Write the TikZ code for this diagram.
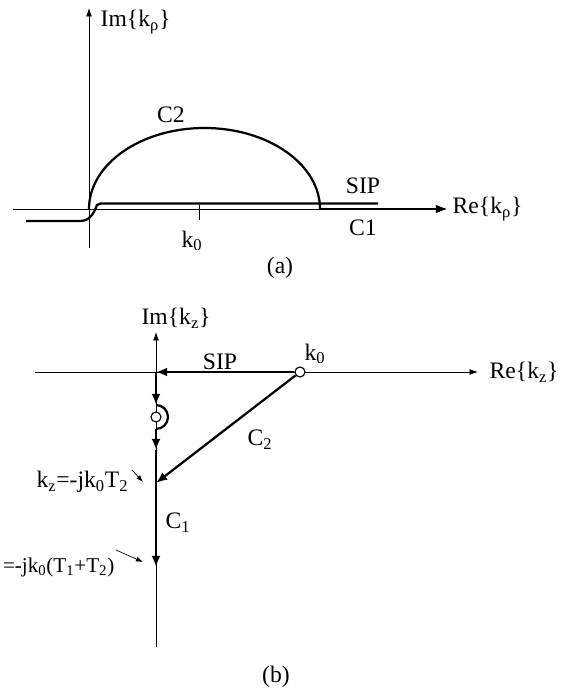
\documentclass[tikz,border=0pt]{standalone}
\usepackage{fontspec}
\setmainfont{Liberation Serif}
\usetikzlibrary{arrows.meta}

\begin{document}
\begin{tikzpicture}[
    >={Latex[length=6pt,width=4.2pt]},
    axis/.style={line width=0.6pt},
    contour/.style={line width=1.6pt, >={Latex[length=8pt,width=6.5pt]}},
    pointer/.style={line width=0.5pt, -{Latex[length=5pt,width=3.5pt]}},
    lbl/.style={font=\fontsize{16.8}{19}\selectfont, inner sep=1pt},
    pole/.style={circle, draw, line width=0.8pt, fill=white,
        inner sep=0pt, minimum size=0.25cm}
]
    \useasboundingbox (0,0) rectangle (14.05,17.25);

    \begin{scope}[shift={(2.225,12.025)}]
        \coordinate (oa) at (0,0);
        \coordinate (imtop) at (0,5.025);
        \coordinate (imbot) at (0,-0.975);
        \coordinate (releft) at (-1.9,0);
        \coordinate (reright) at (8.95,0);
        \coordinate (c2end) at (5.775,0);

        \draw[axis,->] (imbot) -- (imtop);
        \draw[axis,->] (releft) -- (reright);
        \draw[axis] (2.75,0.1) -- (2.75,-0.275);

        \draw[contour] (oa) arc[start angle=180, end angle=0,
            x radius=2.8875, y radius=2.025];
        \draw[contour] (-1.575,-0.3) -- (-0.225,-0.3)
            .. controls (0.025,-0.3) and (0.125,-0.1) .. (0.2,0.1)
            -- (0.3,0.14) -- (7.225,0.14);
        \draw[contour,->] (c2end) -- (reright);

        \node[lbl, anchor=west] (imlabel) at (0.25,4.675) {Im\{k\textsubscript{ρ}\}};
        \node[lbl, anchor=west] (relabel) at (9.05,0) {Re\{k\textsubscript{ρ}\}};
        \node[lbl] (k0a) at (2.575,-0.8) {k\textsubscript{0}};
        \node[lbl] (c2a) at (2.05,2.35) {C2};
        \node[lbl] (sipa) at (6.85,0.575) {SIP};
        \node[lbl] (c1a) at (6.85,-0.475) {C1};
    \end{scope}

    \node[lbl] (capa) at (7.0,10.55) {(a)};

    \begin{scope}[shift={(3.9,7.95)}]
        \coordinate (ob) at (0,0);
        \coordinate (imbtop) at (0,1.0);
        \coordinate (imbbot) at (0,-6.875);
        \coordinate (reblft) at (-3.025,0);
        \coordinate (rebrgt) at (8.05,0);
        \coordinate (d1) at (0,-0.825);
        \coordinate (d2) at (0,-1.425);
        \coordinate (d3) at (0,-1.95);
        \coordinate (t2) at (0,-2.775);
        \coordinate (t12) at (0,-4.875);

        \draw[axis,->] (imbbot) -- (imbtop);
        \draw[axis,->] (reblft) -- (rebrgt);

        \node[pole] (k0) at (3.6,0) {};
        \node[pole] (branch) at (0,-1.125) {};

        \draw[contour,->] (k0) -- (ob);
        \draw[contour,->] (ob) -- (d1);
        \draw[contour] (d1) arc[start angle=90, end angle=-90, radius=0.3];
        \draw[contour,->] (d2) -- (d3);
        \draw[contour] (d3) -- (t2);
        \draw[contour,->] (k0) -- (t2);
        \draw[contour,->] (t2) -- (t12);

        \node[lbl] (imb) at (0.5,1.35) {Im\{k\textsubscript{z}\}};
        \node[lbl, anchor=west] (reb) at (8.3,0) {Re\{k\textsubscript{z}\}};
        \node[lbl] (k0b) at (3.975,0.45) {k\textsubscript{0}};
        \node[lbl, anchor=south] (sipb) at (1.6,0.02) {SIP};
        \node[lbl] (c2b) at (2.6,-1.7) {C\textsubscript{2}};
        \node[lbl] (c1b) at (0.55,-3.775) {C\textsubscript{1}};

        \node[lbl, anchor=east] (t2lbl) at (-0.65,-2.75)
            {k\textsubscript{z}=-jk\textsubscript{0}T\textsubscript{2}};
        \node[lbl, font=\fontsize{15}{18}\selectfont, anchor=east] (t12lbl)
            at (-1.0,-4.875)
            {=-jk\textsubscript{0}(T\textsubscript{1}+T\textsubscript{2})};

        \coordinate (p1s) at (-0.6,-2.45);
        \coordinate (p1e) at (-0.325,-2.75);
        \coordinate (p2s) at (-1.0,-4.45);
        \coordinate (p2e) at (-0.325,-4.75);
        \draw[pointer] (p1s) -- (p1e);
        \draw[pointer] (p2s) -- (p2e);
    \end{scope}

    \node[lbl] (capb) at (6.9,0.325) {(b)};
\end{tikzpicture}
\end{document}
